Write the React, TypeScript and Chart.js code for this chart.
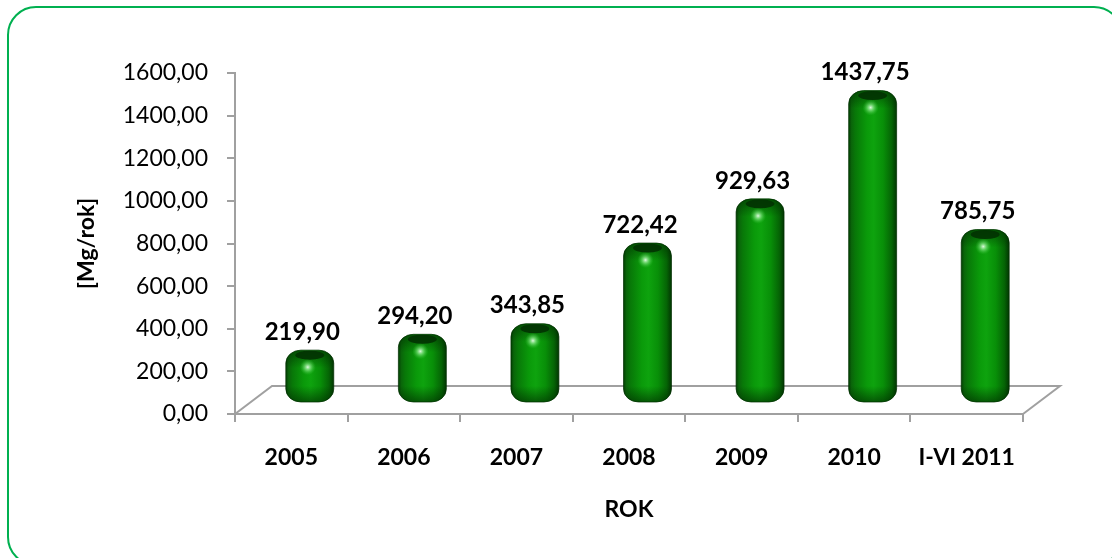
import React, { useEffect, useRef } from 'react';
import { Chart, registerables } from 'chart.js';

Chart.register(...registerables);

const categories = ['2005', '2006', '2007', '2008', '2009', '2010', 'I-VI 2011'];
const values = [219.9, 294.2, 343.85, 722.42, 929.63, 1437.75, 785.75];
const yMin = 0;
const yMax = 1600;
const yStep = 200;
const yTitle = '[Mg/rok]';
const xTitle = 'ROK';

const FONT = 'Lato, "Open Sans", sans-serif';
const DX = 37;
const DY = -28;
const GRAY = '#a0a0a0';

const fmt = (v: number) => v.toFixed(2).replace('.', ',');

function drawCylinder(ctx: CanvasRenderingContext2D, cx: number, top: number, bottom: number, w: number) {
  const x0 = cx - w / 2;
  const t = top - 3;
  const b = bottom + 3;
  const h = b - t;
  ctx.save();
  ctx.beginPath();
  (ctx as any).roundRect(x0, t, w, h, [{ x: 15, y: 13 }]);
  const g = ctx.createLinearGradient(x0, 0, x0 + w, 0);
  g.addColorStop(0, '#034003');
  g.addColorStop(0.06, '#0a650a');
  g.addColorStop(0.14, '#087808');
  g.addColorStop(0.38, '#0a9a0a');
  g.addColorStop(0.52, '#0ea30e');
  g.addColorStop(0.72, '#088f08');
  g.addColorStop(0.9, '#056405');
  g.addColorStop(1, '#023602');
  ctx.fillStyle = g;
  ctx.fill();
  ctx.clip();
  const vg = ctx.createLinearGradient(0, t, 0, t + 18);
  vg.addColorStop(0, 'rgba(0,40,0,0.6)');
  vg.addColorStop(1, 'rgba(0,40,0,0)');
  ctx.fillStyle = vg;
  ctx.fillRect(x0, t, w, 18);
  const bg = ctx.createLinearGradient(0, b - 16, 0, b);
  bg.addColorStop(0, 'rgba(0,40,0,0)');
  bg.addColorStop(1, 'rgba(0,40,0,0.6)');
  ctx.fillStyle = bg;
  ctx.fillRect(x0, b - 16, w, 16);
  ctx.beginPath();
  ctx.ellipse(cx, t + 5, w * 0.3, 4.5, 0, 0, Math.PI * 2);
  ctx.fillStyle = 'rgba(2,50,2,0.9)';
  ctx.fill();
  const rg = ctx.createRadialGradient(cx - 2, t + 17, 0, cx - 2, t + 17, 8);
  rg.addColorStop(0, 'rgba(235,255,235,0.95)');
  rg.addColorStop(0.4, 'rgba(150,240,150,0.6)');
  rg.addColorStop(1, 'rgba(60,200,60,0)');
  ctx.fillStyle = rg;
  ctx.fillRect(cx - 12, t + 7, 24, 20);
  ctx.restore();
  ctx.save();
  ctx.beginPath();
  (ctx as any).roundRect(x0, t, w, h, [{ x: 15, y: 13 }]);
  ctx.strokeStyle = 'rgba(0,45,0,0.7)';
  ctx.lineWidth = 1;
  ctx.stroke();
  ctx.restore();
}

const decor = {
  id: 'decor',
  beforeDraw(chart: any) {
    const ctx = chart.ctx as CanvasRenderingContext2D;
    ctx.save();
    ctx.fillStyle = '#ffffff';
    ctx.fillRect(0, 0, chart.width, chart.height);
    ctx.beginPath();
    (ctx as any).roundRect(8, 7, 1114, 558, 28);
    ctx.strokeStyle = '#00B050';
    ctx.lineWidth = 2;
    ctx.stroke();
    ctx.restore();
  },
  beforeDatasetsDraw(chart: any) {
    const ctx = chart.ctx as CanvasRenderingContext2D;
    const { left, right, bottom } = chart.chartArea;
    ctx.save();
    ctx.strokeStyle = GRAY;
    ctx.lineWidth = 2;
    ctx.beginPath();
    ctx.moveTo(left, bottom);
    ctx.lineTo(left + DX, bottom + DY);
    ctx.lineTo(right + DX, bottom + DY);
    ctx.lineTo(right, bottom);
    ctx.stroke();
    ctx.restore();
  },
  afterDatasetsDraw(chart: any) {
    const ctx = chart.ctx as CanvasRenderingContext2D;
    const meta = chart.getDatasetMeta(0);
    meta.data.forEach((el: any, i: number) => {
      const p = el.getProps(['x', 'y', 'base', 'width'], true);
      drawCylinder(ctx, p.x + DX / 2, p.y + DY / 2, p.base + DY / 2, p.width);
      ctx.save();
      ctx.font = `bold 24px ${FONT}`;
      ctx.fillStyle = '#000';
      ctx.textAlign = 'center';
      ctx.textBaseline = 'middle';
      ctx.fillText(fmt(values[i]), p.x + 11, p.y - 35);
      ctx.restore();
    });
  },
};

export default function App() {
  const ref = useRef<HTMLCanvasElement>(null);
  useEffect(() => {
    if (!ref.current) return;
    const chart = new Chart(ref.current, {
      type: 'bar',
      data: {
        labels: categories,
        datasets: [
          {
            data: values,
            backgroundColor: 'rgba(0,0,0,0)',
            borderWidth: 0,
            categoryPercentage: 1,
            barPercentage: 0.426,
          },
        ],
      },
      options: {
        responsive: false,
        animation: false,
        events: [],
        layout: { padding: { left: 0, top: 73, right: 89, bottom: 0 } },
        plugins: { legend: { display: false }, tooltip: { enabled: false } },
        scales: {
          x: {
            afterFit: (s: any) => {
              s.height = 144;
            },
            grid: { display: true, drawOnChartArea: false, drawTicks: true, tickLength: 8, color: GRAY, lineWidth: 2, offset: true },
            border: { display: true, color: GRAY, width: 2 },
            ticks: { color: '#000', padding: 22, font: { family: FONT, size: 23, weight: 'bold' } },
            title: { display: true, text: xTitle, color: '#000', padding: { top: 0, bottom: 35 }, font: { family: FONT, size: 23, weight: 'bold' } },
          },
          y: {
            min: yMin,
            max: yMax,
            afterFit: (s: any) => {
              s.width = 235;
            },
            grid: { display: true, drawOnChartArea: false, drawTicks: true, tickLength: 8, color: GRAY, lineWidth: 2 },
            border: { display: true, color: GRAY, width: 2 },
            ticks: { stepSize: yStep, color: '#000', padding: 19, font: { family: FONT, size: 23 }, callback: (v: any) => fmt(Number(v)) },
            title: { display: true, text: yTitle, color: '#000', padding: { top: 73, bottom: 0 }, font: { family: FONT, size: 23, weight: 'bold' } },
          },
        },
      },
      plugins: [decor],
    });
    return () => chart.destroy();
  }, []);
  return (
    <div style={{ position: 'absolute', left: 0, top: 0, width: 1112, height: 558 }}>
      <canvas ref={ref} width={1112} height={558} style={{ display: 'block' }} />
    </div>
  );
}
